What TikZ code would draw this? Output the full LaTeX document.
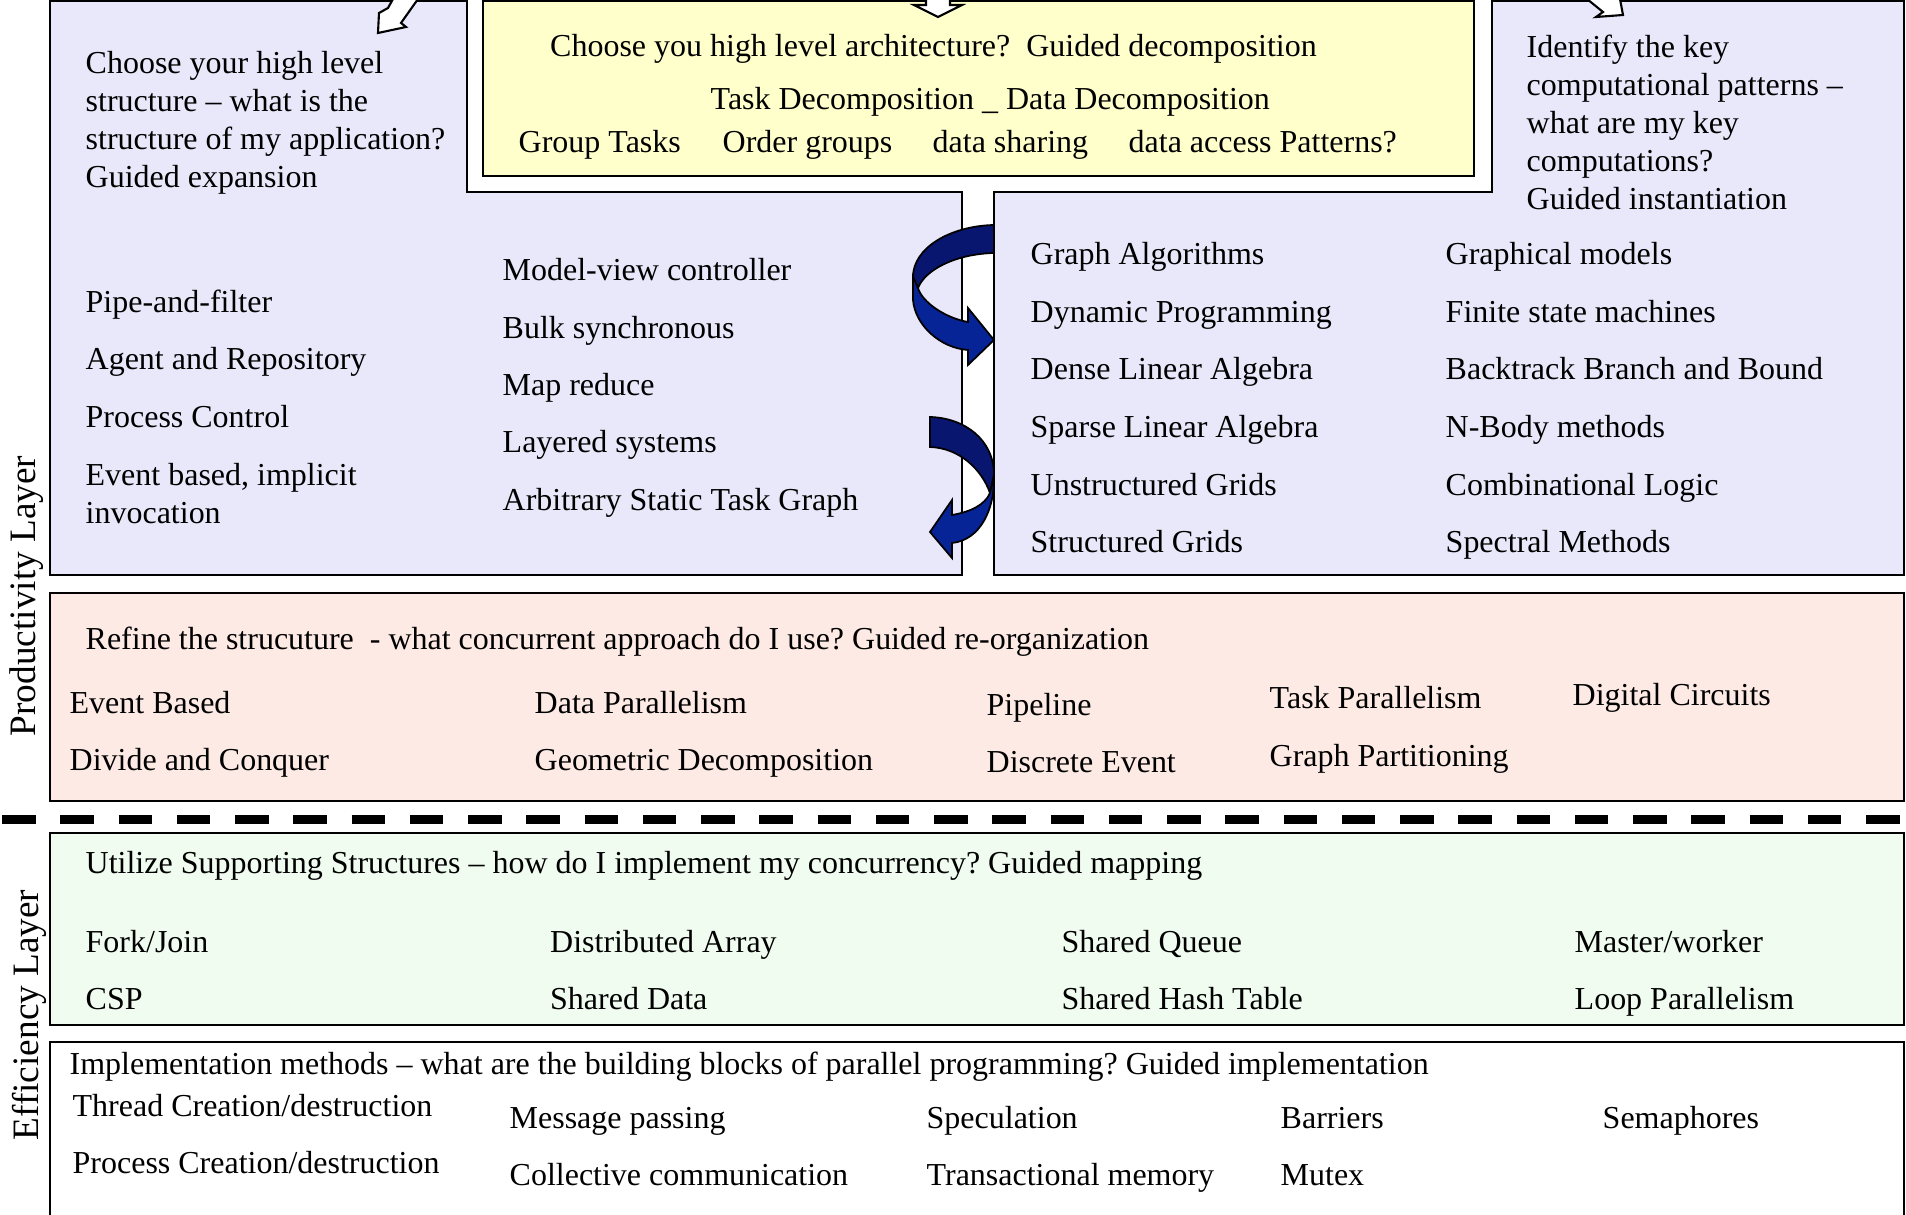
\documentclass[tikz,border=0pt]{standalone}
\usepackage{fontspec}
\setmainfont{Liberation Serif}
\frenchspacing
\definecolor{archblue}{RGB}{232,232,250}
\definecolor{archyellow}{RGB}{255,255,204}
\definecolor{refinepink}{RGB}{253,234,228}
\definecolor{supportgreen}{RGB}{240,252,240}
\definecolor{ribbondark}{RGB}{8,22,112}
\definecolor{ribbonlight}{RGB}{6,36,150}

\begin{document}
\begin{tikzpicture}[x=0.1mm,y=-0.1mm,
  box/.style={draw=black,line width=0.6pt},
  txt/.style={anchor=west,inner sep=0pt,font=\fontsize{9.1}{10.8}\selectfont,text height=8pt,text depth=1.9pt},
  headtxt/.style={anchor=west,inner sep=0pt,align=left,font=\fontsize{9.1}{10.8}\selectfont},
  layerlabel/.style={rotate=90,anchor=base,inner sep=0pt,font=\fontsize{10.6}{12}\selectfont},
  ribbon/.style={draw=black,line width=0.5pt},
  blockarrow/.style={draw=black,fill=white,line width=0.6pt}]
\useasboundingbox (0,0) rectangle (1906,1215);
\clip (0,0) rectangle (1906,1215);

\draw[box,fill=archblue] (50,1) -- (467,1) -- (467,192) -- (962,192) -- (962,575) -- (50,575) -- cycle;
\draw[box,fill=archblue] (1492,1) -- (1904,1) -- (1904,575) -- (994,575) -- (994,192) -- (1492,192) -- cycle;
\draw[box,fill=archyellow] (483,1) rectangle (1474,176);
\draw[box,fill=refinepink] (50,593) rectangle (1904,801);
\draw[line width=0.09cm,dash pattern=on 0.335cm off 0.2475cm] (2,820) -- (1906,820);
\draw[box,fill=supportgreen] (50,833) rectangle (1904,1025);
\draw[box,fill=white] (50,1042) rectangle (1904,1230);

\draw[ribbon,fill=ribbondark] (994,225) .. controls (950,226) and (913,248) .. (913,277) -- (918,288) .. controls (925,270) and (955,254) .. (994,253) -- cycle;
\draw[ribbon,fill=ribbonlight] (913,277) -- (913,300) .. controls (915,325) and (940,348) .. (968,350) -- (968,365) -- (994,340) -- (968,308) -- (968,322) .. controls (945,318) and (922,302) .. (918,288) -- cycle;
\draw[ribbon,fill=ribbondark] (930,417) .. controls (965,418) and (994,440) .. (994,475) -- (990,493) .. controls (982,470) and (960,448) .. (930,447) -- cycle;
\draw[ribbon,fill=ribbonlight] (994,475) .. controls (995,510) and (980,540) .. (952,543) -- (952,558) -- (930,532) -- (952,500) -- (952,515) .. controls (970,512) and (985,505) .. (990,493) -- cycle;

\draw[blockarrow] (393,-1) -- (388,8) -- (379,13) -- (378,33) -- (406,27) -- (401,23) -- (418,-1);
\draw[blockarrow] (926,-1) -- (926,5) -- (914,5) -- (938,17) -- (962,5) -- (950,5) -- (950,-1);
\draw[blockarrow] (1587,-1) -- (1603,12) -- (1596,17) -- (1623,15) -- (1620,-1);

\node[headtxt] (structq) at (85,123) {Choose your high level\\structure -- what is the\\structure of my application?\\Guided expansion};
\foreach \t [count=\i from 0] in {Pipe-and-filter, Agent and Repository, Process Control}
  \node[txt] (struct-\i) at (85,301.5+57.5*\i) {\t};
\node[headtxt] (struct-event) at (85,494) {Event based, implicit\\invocation};
\foreach \t [count=\i from 0] in {Model-view controller, Bulk synchronous, Map reduce, Layered systems, Arbitrary Static Task Graph}
  \node[txt] (arch-\i) at (502,270+57.4*\i) {\t};

\node[txt] (archq) at (549.5,46) {Choose you high level architecture?\ \ Guided decomposition};
\node[txt] (decomp) at (710,98.5) {Task Decomposition \_ Data Decomposition};
\node[txt] (grouptasks) at (518,142) {Group Tasks};
\node[txt] (ordergroups) at (722,142) {Order groups};
\node[txt] (datasharing) at (932,142) {data sharing};
\node[txt] (dataaccess) at (1128,142) {data access Patterns?};

\node[headtxt] (computeq) at (1526,122) {Identify the key\\computational patterns --\\what are my key\\computations?\\Guided instantiation};
\foreach \t [count=\i from 0] in {Graph Algorithms, Dynamic Programming, Dense Linear Algebra, Sparse Linear Algebra, Unstructured Grids, Structured Grids}
  \node[txt] (comp-\i) at (1030,254+57.6*\i) {\t};
\foreach \t [count=\i from 0] in {Graphical models, Finite state machines, Backtrack Branch and Bound, N-Body methods, Combinational Logic, Spectral Methods}
  \node[txt] (compb-\i) at (1445,254+57.6*\i) {\t};

\node[txt] (refineq) at (85,639) {Refine the strucuture\ \ - what concurrent approach do I use? Guided re-organization};
\node[txt] (eventbased) at (69,703) {Event Based};
\node[txt] (divide) at (69,760) {Divide and Conquer};
\node[txt] (datapar) at (534,703) {Data Parallelism};
\node[txt] (geometric) at (534,760) {Geometric Decomposition};
\node[txt] (pipeline) at (986,705) {Pipeline};
\node[txt] (discrete) at (986,762) {Discrete Event};
\node[txt] (taskpar) at (1269,698) {Task Parallelism};
\node[txt] (graphpart) at (1269,756) {Graph Partitioning};
\node[txt] (digital) at (1572,695) {Digital Circuits};

\node[txt] (supportq) at (85,863) {Utilize Supporting Structures -- how do I implement my concurrency? Guided mapping};
\node[txt] (forkjoin) at (85,942) {Fork/Join};
\node[txt] (csp) at (85,999) {CSP};
\node[txt] (distarray) at (549.5,942) {Distributed Array};
\node[txt] (shareddata) at (549.5,999) {Shared Data};
\node[txt] (sharedqueue) at (1061,942) {Shared Queue};
\node[txt] (sharedhash) at (1061,999) {Shared Hash Table};
\node[txt] (masterworker) at (1574,942) {Master/worker};
\node[txt] (looppar) at (1574,999) {Loop Parallelism};

\node[txt] (implq) at (69,1064) {Implementation methods -- what are the building blocks of parallel programming? Guided implementation};
\node[txt] (thread) at (72,1106) {Thread Creation/destruction};
\node[txt] (process) at (72,1163) {Process Creation/destruction};
\node[txt] (message) at (509,1118) {Message passing};
\node[txt] (collective) at (509,1175) {Collective communication};
\node[txt] (speculation) at (926,1118) {Speculation};
\node[txt] (transmem) at (926,1175) {Transactional memory};
\node[txt] (barriers) at (1280,1118) {Barriers};
\node[txt] (mutex) at (1280,1175) {Mutex};
\node[txt] (semaphores) at (1602,1118) {Semaphores};

\node[layerlabel] (prodlayer) at (35,596) {Productivity Layer};
\node[layerlabel] (efflayer) at (39,1015) {Efficiency Layer};
\end{tikzpicture}
\end{document}
